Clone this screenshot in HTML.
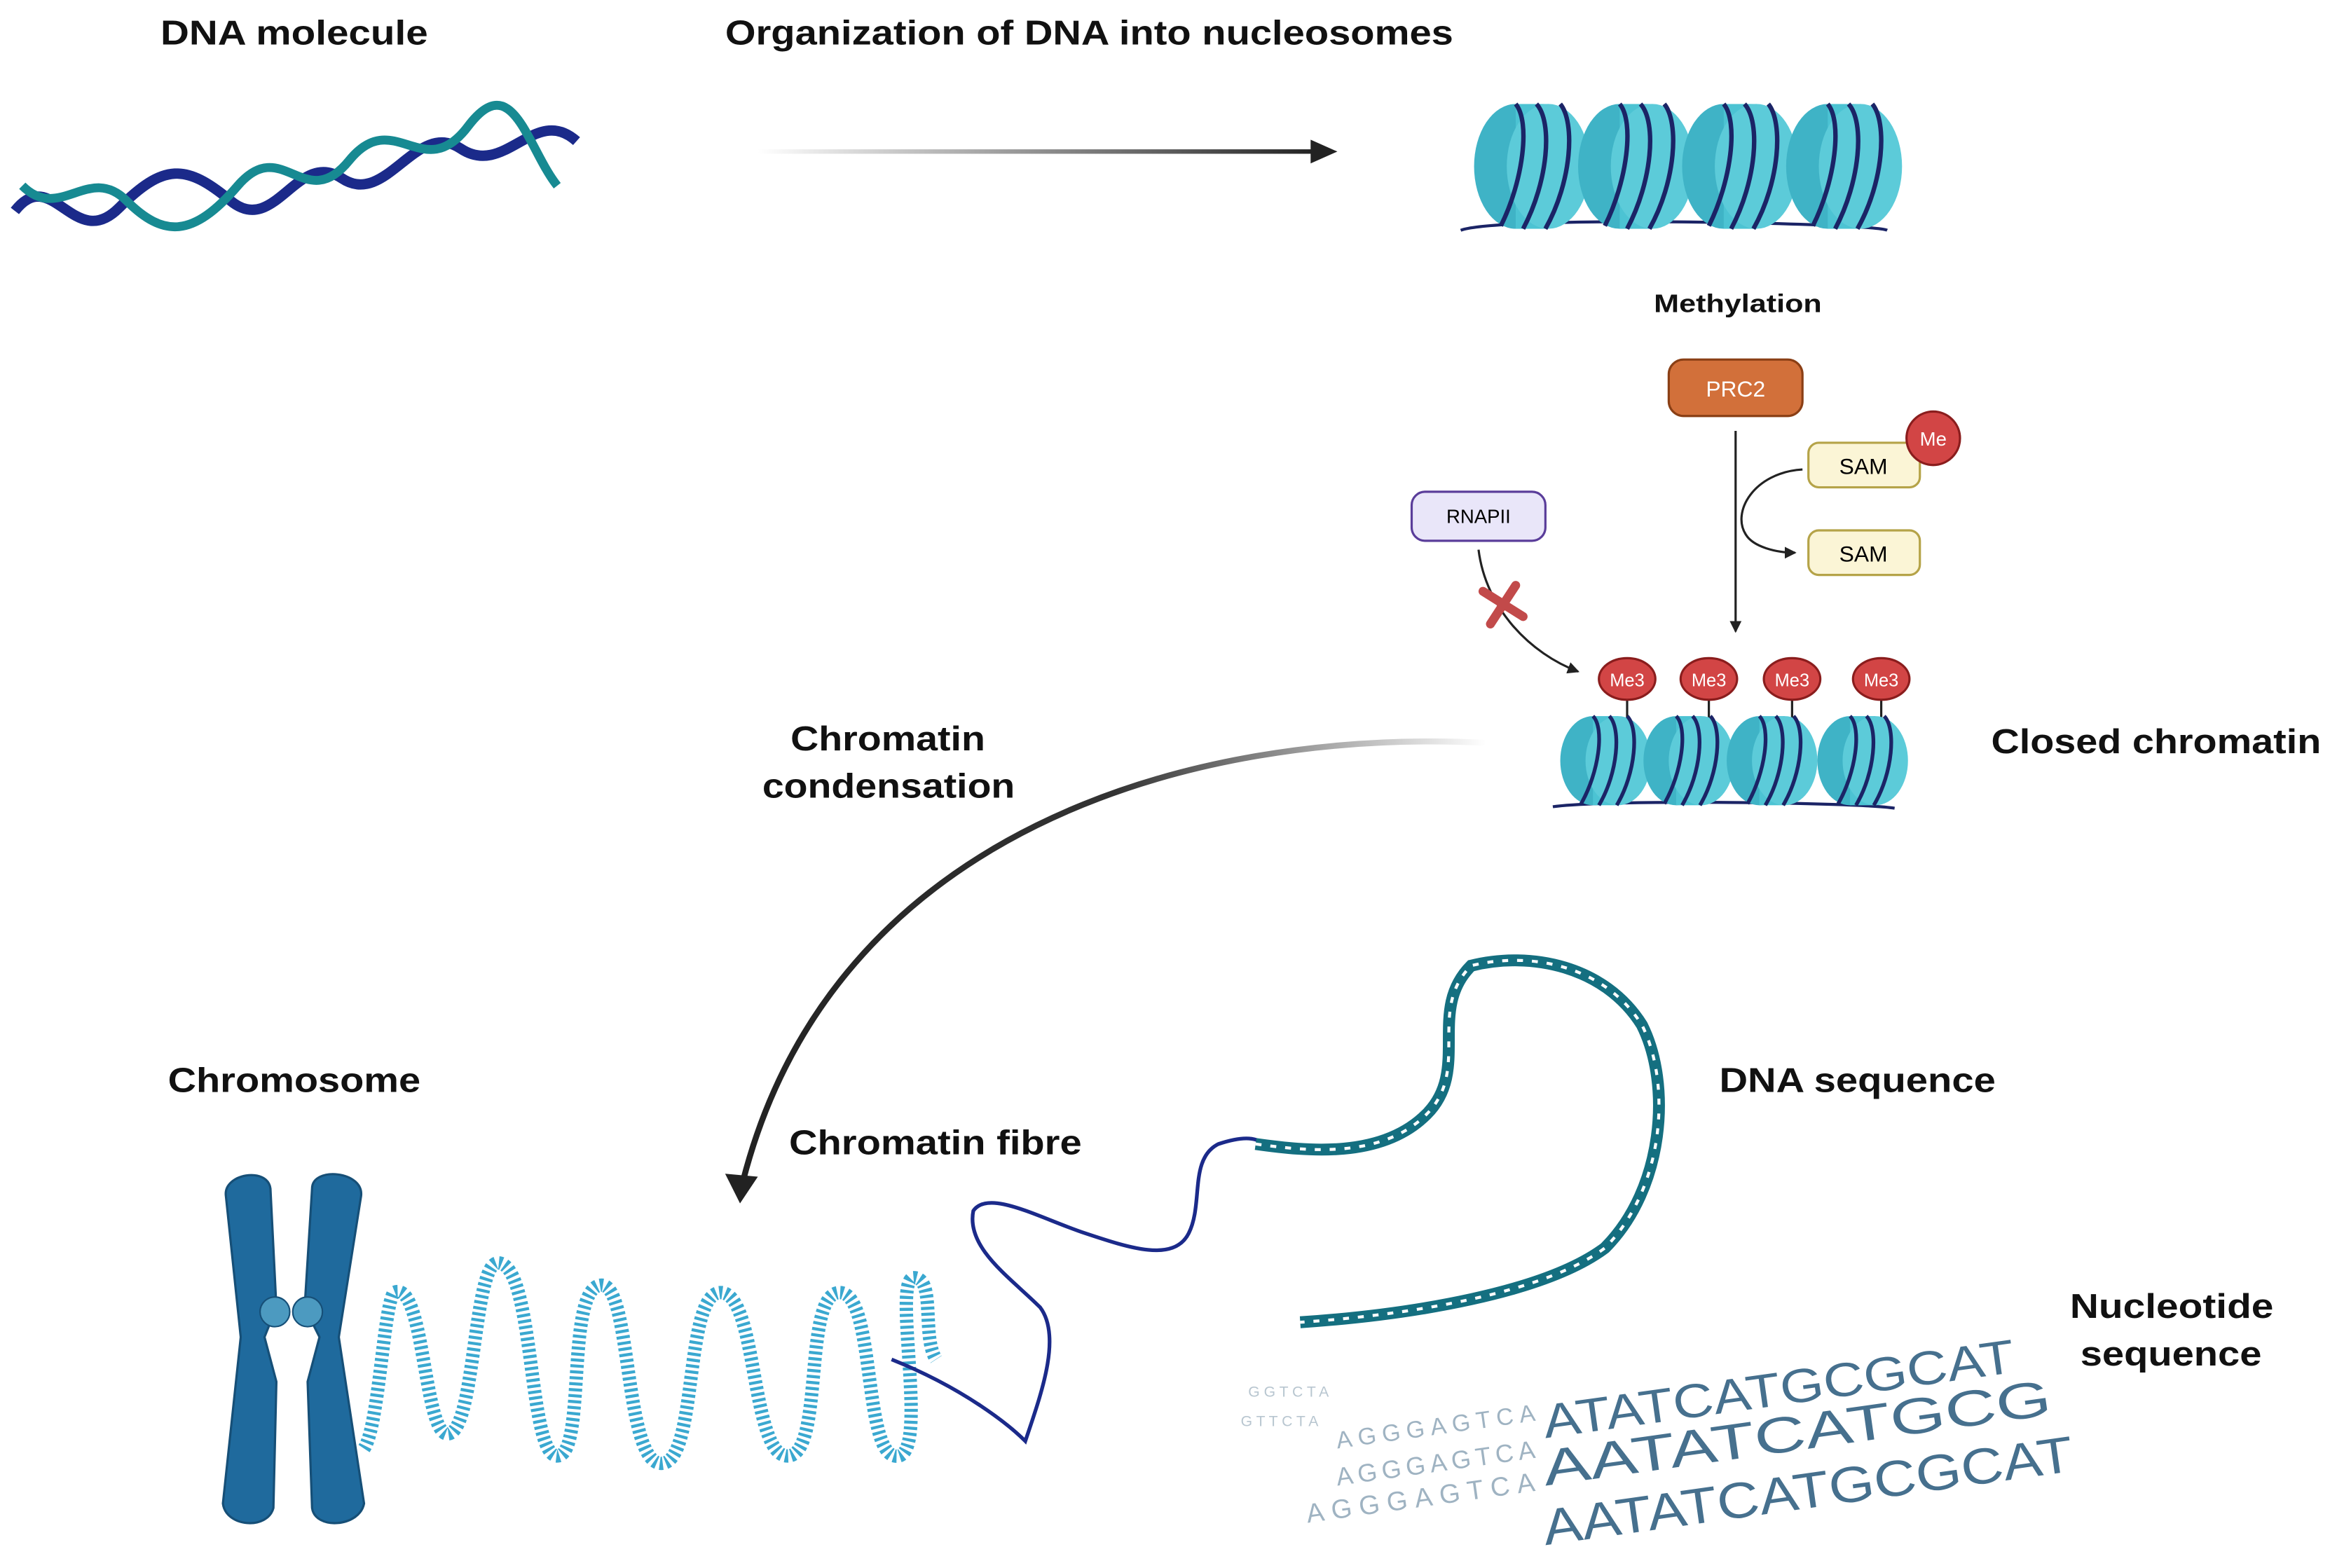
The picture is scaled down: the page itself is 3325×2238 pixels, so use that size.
<!DOCTYPE html>
<html><head><meta charset="utf-8"><style>
html,body{margin:0;padding:0;background:#fff;}
svg{display:block;}
text{font-family:"Liberation Sans",sans-serif;}
</style></head><body>
<svg width="3325" height="2238" viewBox="0 0 1568 1055.4" xmlns="http://www.w3.org/2000/svg">
<defs>
<linearGradient id="g1" x1="0" x2="1" y1="0" y2="0"><stop offset="0" stop-color="#fff"/><stop offset="1" stop-color="#222"/></linearGradient>
<linearGradient id="g2" x1="1" x2="0"><stop offset="0" stop-color="#fff"/><stop offset="0.5" stop-color="#333"/><stop offset="1" stop-color="#222"/></linearGradient>
<marker id="ahs" markerWidth="8" markerHeight="8" refX="7" refY="4" orient="auto" markerUnits="userSpaceOnUse"><path d="M0,0 L8,4 L0,8z" fill="#222"/></marker>
<g id="nuc">
 <ellipse cx="0" cy="0" rx="28" ry="42" fill="#3fb3c6"/>
 <rect x="0" y="-42" width="22" height="84" fill="#4cc3d3"/>
 <ellipse cx="22" cy="0" rx="28" ry="42" fill="#5ccbd9"/>
 <path d="M-10,40 C5,10 10,-30 0,-42 M5,42 C22,10 25,-30 14,-42 M20,42 C38,10 40,-30 30,-42" stroke="#1b2466" stroke-width="3" fill="none"/>
</g>
<g id="nucs">
 <ellipse cx="0" cy="0" rx="22" ry="30" fill="#3fb3c6"/>
 <rect x="0" y="-30" width="17" height="60" fill="#4cc3d3"/>
 <ellipse cx="17" cy="0" rx="22" ry="30" fill="#5ccbd9"/>
 <path d="M-8,29 C4,8 8,-22 0,-30 M4,30 C17,8 19,-22 11,-30 M16,30 C29,8 31,-22 23,-30" stroke="#1b2466" stroke-width="2.5" fill="none"/>
</g>
</defs>

<g font-weight="bold" fill="#111" font-size="23">
<text x="108" y="30" textLength="180" lengthAdjust="spacingAndGlyphs">DNA molecule</text>
<text x="488" y="30" textLength="490" lengthAdjust="spacingAndGlyphs">Organization of DNA into nucleosomes</text>
<text x="1340" y="507" textLength="222" lengthAdjust="spacingAndGlyphs">Closed chromatin</text>
<text x="532" y="505" textLength="131" lengthAdjust="spacingAndGlyphs">Chromatin</text>
<text x="513" y="537" textLength="170" lengthAdjust="spacingAndGlyphs">condensation</text>
<text x="113" y="735" textLength="170" lengthAdjust="spacingAndGlyphs">Chromosome</text>
<text x="531" y="777" textLength="197" lengthAdjust="spacingAndGlyphs">Chromatin fibre</text>
<text x="1157" y="735" textLength="186" lengthAdjust="spacingAndGlyphs">DNA sequence</text>
<text x="1393" y="887" textLength="137" lengthAdjust="spacingAndGlyphs">Nucleotide</text>
<text x="1400" y="919" textLength="122" lengthAdjust="spacingAndGlyphs">sequence</text>
<text x="1113" y="210" font-size="17" textLength="113" lengthAdjust="spacingAndGlyphs">Methylation</text>
</g>

<path d="M10,142 C35,110 50,170 80,140 S125,110 155,135 S200,100 230,120 S280,80 310,100 S360,70 388,95" stroke="#1b2a8a" stroke-width="7" fill="none"/>
<path d="M15,125 C40,150 60,110 85,135 S130,160 160,125 S205,145 235,108 S285,125 315,85 S355,100 375,125" stroke="#178a92" stroke-width="6" fill="none"/>

<rect x="510" y="100.5" width="375" height="3" fill="url(#g1)"/>
<path d="M882,94 L900,102 L882,110z" fill="#222"/>

<path d="M983,155 C1010,145 1260,150 1270,155" stroke="#1b2466" stroke-width="2" fill="none"/>
<use href="#nuc" x="1020" y="112"/><use href="#nuc" x="1090" y="112"/><use href="#nuc" x="1160" y="112"/><use href="#nuc" x="1230" y="112"/>

<rect x="1123" y="242" width="90" height="38" rx="10" fill="#d2703a" stroke="#8a3f15" stroke-width="1.5"/>
<text x="1168" y="267" text-anchor="middle" fill="#fff" font-size="15">PRC2</text>
<line x1="1168" y1="290" x2="1168" y2="425" stroke="#222" stroke-width="1.5" marker-end="url(#ahs)"/>
<path d="M1213,316 C1180,318 1165,345 1175,360 C1180,368 1195,372 1208,372" stroke="#222" stroke-width="1.5" fill="none" marker-end="url(#ahs)"/>
<rect x="1217" y="298" width="75" height="30" rx="7" fill="#fbf5d6" stroke="#b5a348" stroke-width="1.5"/>
<text x="1254" y="319" text-anchor="middle" font-size="15">SAM</text>
<circle cx="1301" cy="295" r="18" fill="#d24545" stroke="#8a1d1d" stroke-width="1.5"/>
<text x="1301" y="300" text-anchor="middle" fill="#fff" font-size="13">Me</text>
<rect x="1217" y="357" width="75" height="30" rx="7" fill="#fbf5d6" stroke="#b5a348" stroke-width="1.5"/>
<text x="1254" y="378" text-anchor="middle" font-size="15">SAM</text>

<rect x="950" y="331" width="90" height="33" rx="9" fill="#e9e6f9" stroke="#5a3d9a" stroke-width="1.5"/>
<text x="995" y="352" text-anchor="middle" font-size="13">RNAPII</text>
<path d="M995,370 C1000,410 1030,440 1062,452" stroke="#222" stroke-width="1.5" fill="none" marker-end="url(#ahs)"/>
<path d="M998,398 L1025,415 M1020,394 L1003,420" stroke="#c24a4a" stroke-width="6" stroke-linecap="round"/>

<path d="M1045,543 C1080,538 1250,540 1275,544" stroke="#1b2466" stroke-width="2" fill="none"/>
<g stroke="#222" stroke-width="1.5">
<line x1="1095" y1="465" x2="1095" y2="490"/><line x1="1150" y1="465" x2="1150" y2="490"/><line x1="1206" y1="465" x2="1206" y2="490"/><line x1="1266" y1="465" x2="1266" y2="490"/>
</g>
<use href="#nucs" x="1072" y="512"/><use href="#nucs" x="1128" y="512"/><use href="#nucs" x="1184" y="512"/><use href="#nucs" x="1245" y="512"/>
<g fill="#d24545" stroke="#8a1d1d" stroke-width="1.5">
<ellipse cx="1095" cy="457" rx="19" ry="14"/><ellipse cx="1150" cy="457" rx="19" ry="14"/><ellipse cx="1206" cy="457" rx="19" ry="14"/><ellipse cx="1266" cy="457" rx="19" ry="14"/>
</g>
<g fill="#fff" font-size="12" text-anchor="middle">
<text x="1095" y="462">Me3</text><text x="1150" y="462">Me3</text><text x="1206" y="462">Me3</text><text x="1266" y="462">Me3</text>
</g>

<path d="M1000,500 C800,490 560,560 500,795" stroke="url(#g2)" stroke-width="4" fill="none"/>
<path d="M488,790 L498,810 L510,792z" fill="#222"/>

<g fill="#1f6a9d" stroke="#164f77" stroke-width="1.5">
<path d="M152,805 C150,790 180,785 182,800 L186,880 L178,900 L186,930 L184,1015 C180,1030 152,1028 150,1012 L162,900 Z"/>
<path d="M210,800 C210,785 245,788 243,805 L228,900 L245,1012 C242,1028 212,1030 210,1015 L207,930 L215,900 L205,880 Z"/>
</g>
<circle cx="185" cy="883" r="10" fill="#4c9ac0" stroke="#164f77"/>
<circle cx="207" cy="883" r="10" fill="#4c9ac0" stroke="#164f77"/>

<path d="M245,975 C255,960 258,880 265,870 C285,860 285,960 300,965 C320,970 318,850 335,850 C360,850 355,980 375,980 C395,980 380,865 405,865 C425,865 420,985 445,985 C470,985 460,870 485,870 C510,870 505,980 530,980 C555,980 540,870 565,870 C590,870 580,985 605,980 C625,975 600,860 615,860 C630,860 620,900 630,915" stroke="#3aa8d0" stroke-width="9" fill="none" stroke-dasharray="2 2"/>

<path d="M600,915 C650,935 680,960 690,970 C700,940 715,900 700,880 C680,860 650,840 655,815 C665,800 700,820 730,830 C760,840 790,850 800,830 C810,810 800,780 820,770 C835,765 845,765 850,770" stroke="#1b2a8a" stroke-width="2.5" fill="none"/>

<path d="M845,770 C880,775 930,780 960,750 C990,720 960,680 990,650 C1030,640 1080,650 1105,690 C1125,730 1120,800 1080,840 C1040,870 950,885 875,890" stroke="#146f80" stroke-width="8" fill="none"/>
<path d="M845,770 C880,775 930,780 960,750 C990,720 960,680 990,650 C1030,640 1080,650 1105,690 C1125,730 1120,800 1080,840 C1040,870 950,885 875,890" stroke="#fff" stroke-width="2" fill="none" stroke-dasharray="4 6"/>

<g>
<text x="900" y="975" font-size="16" transform="rotate(-8 900 975)" fill="#9fb3c2" textLength="135">AGGGAGTCA</text>
<text x="1040" y="968" font-size="32" transform="rotate(-8 1040 968)" fill="#46708e" textLength="320" lengthAdjust="spacingAndGlyphs">ATATCATGCGCAT</text>
<text x="900" y="1000" font-size="17" transform="rotate(-8 900 1000)" fill="#9fb3c2" textLength="135">AGGGAGTCA</text>
<text x="1040" y="1000" font-size="34" transform="rotate(-8 1040 1000)" fill="#46708e" textLength="345" lengthAdjust="spacingAndGlyphs">AATATCATGCG</text>
<text x="880" y="1025" font-size="18" transform="rotate(-8 880 1025)" fill="#9fb3c2" textLength="155">AGGGAGTCA</text>
<text x="1040" y="1040" font-size="34" transform="rotate(-8 1040 1040)" fill="#46708e" textLength="360" lengthAdjust="spacingAndGlyphs">AATATCATGCGCAT</text>
<text x="840" y="940" font-size="10" fill="#b8c6d0">G G T C T A</text>
<text x="835" y="960" font-size="10" fill="#b8c6d0">G T T C T A</text>
</g>
</svg>
</body></html>
